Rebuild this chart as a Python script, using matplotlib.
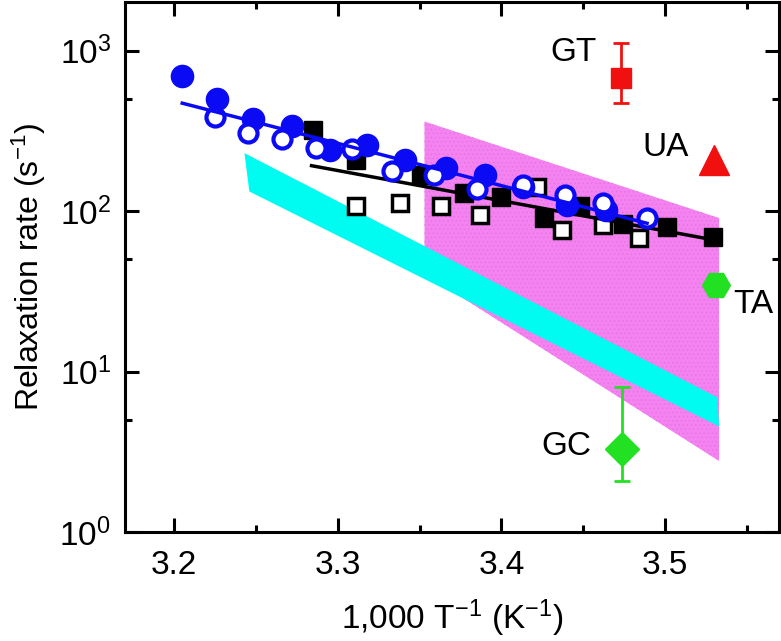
import numpy as np
import matplotlib
matplotlib.use('Agg')
import matplotlib.pyplot as plt
from matplotlib.patches import Polygon
from matplotlib.ticker import LogLocator, FixedLocator

plt.rcParams['font.family'] = ['Liberation Sans', 'DejaVu Sans']
plt.rcParams['mathtext.default'] = 'regular'
plt.rcParams['hatch.linewidth'] = 0.6

# 塗りつぶし青丸
blue_fill_x = [3.205, 3.226, 3.248, 3.272, 3.295, 3.318, 3.341, 3.366, 3.390, 3.413, 3.440, 3.464]
blue_fill_y = [696, 498, 374, 337, 241, 259, 209, 185, 168, 142, 110, 102]

# 白抜き青丸
blue_open_x = [3.225, 3.245, 3.266, 3.287, 3.309, 3.333, 3.359, 3.385, 3.413, 3.439, 3.462, 3.489]
blue_open_y = [385, 309, 281, 247, 243, 177, 168, 137, 146, 126, 112, 91]

# 青のフィット直線
blue_fit_x = [3.205, 3.489]
blue_fit_y = [471, 84]

# 塗りつぶし黒四角
black_fill_x = [3.285, 3.311, 3.351, 3.377, 3.400, 3.426, 3.448, 3.474, 3.501, 3.529]
black_fill_y = [321, 209, 168, 130, 123, 90, 107, 83.5, 79.6, 68.8]

# 白抜き黒四角
black_open_x = [3.311, 3.338, 3.363, 3.387, 3.422, 3.437, 3.462, 3.484]
black_open_y = [107, 112, 107, 95, 141, 76, 82.3, 68]

# 黒のフィット直線
black_fit_x = [3.284, 3.529]
black_fit_y = [192, 66.4]

# マゼンタ領域とシアン帯
magenta_x = [3.353, 3.533, 3.533, 3.353]
magenta_y = [362, 90.6, 2.77, 40.8]
cyan_x = [3.243, 3.532, 3.533, 3.246]
cyan_y = [230, 6.9, 4.55, 132.6]

# 個別の点
gt_x, gt_y, gt_lo, gt_hi = 3.473, 673, 475, 1112
ua_x, ua_y = 3.530, 209
ta_x, ta_y = 3.531, 34.8
gc_x, gc_y, gc_lo, gc_hi = 3.4735, 3.27, 2.08, 8.04

labels = ['GT', 'UA', 'TA', 'GC']
label_x = [3.4438, 3.5006, 3.5538, 3.4395]
label_y = [968, 248, 26.2, 3.40]

fig = plt.figure(figsize=(7.81, 6.41), dpi=100)
ax = fig.add_axes([0.160, 0.170, 0.8374, 0.8268])
ax.set_yscale('log')

ax.add_patch(Polygon(list(zip(magenta_x, magenta_y)), closed=True, facecolor='#f482f0',
                     edgecolor='#e874e4', hatch='....', linewidth=0, zorder=1))
ax.add_patch(Polygon(list(zip(cyan_x, cyan_y)), closed=True, facecolor='#00fbf0',
                     edgecolor='none', zorder=2))

ax.plot(black_open_x, black_open_y, 's', ms=12, mfc='white', mec='black', mew=2.5, zorder=3)
ax.plot(black_fill_x, black_fill_y, 's', ms=13, color='black', zorder=4)
ax.plot(black_fit_x, black_fit_y, '-', color='black', lw=2.5, zorder=5)
ax.plot(blue_fill_x, blue_fill_y, 'o', ms=16, color='#0a0af5', zorder=6)
ax.plot(blue_open_x, blue_open_y, 'o', ms=13, mfc='white', mec='#0a0af5', mew=3, zorder=7)
ax.plot(blue_fit_x, blue_fit_y, '-', color='#0a0af5', lw=2.5, zorder=8)

ax.errorbar([gt_x], [gt_y], yerr=[[gt_y - gt_lo], [gt_hi - gt_y]], fmt='s', ms=15,
            color='#f01010', ecolor='#f01010', elinewidth=2, capsize=6, capthick=2, zorder=9)
ax.plot([ua_x], [ua_y], '^', ms=22, color='#f01010', zorder=9)
ax.plot([ta_x], [ta_y], 'H', ms=20, color='#22e022', zorder=9)
ax.errorbar([gc_x], [gc_y], yerr=[[gc_y - gc_lo], [gc_hi - gc_y]], fmt='D', ms=17,
            color='#22e022', ecolor='#22e022', elinewidth=2, capsize=6, capthick=2, zorder=9)

for t, lx, ly in zip(labels, label_x, label_y):
    ax.text(lx, ly, t, fontsize=24, ha='center', va='center', zorder=10)

ax.set_xlim(3.170, 3.5696)
ax.set_ylim(1, 2010)

ax.xaxis.set_major_locator(FixedLocator([3.2, 3.3, 3.4, 3.5]))
ax.xaxis.set_minor_locator(FixedLocator([3.25, 3.35, 3.45, 3.55]))
ax.set_xticklabels(['3.2', '3.3', '3.4', '3.5'])
ax.yaxis.set_major_locator(LogLocator(base=10, numticks=10))
ax.yaxis.set_minor_locator(LogLocator(base=10, subs=[5.0], numticks=10))
ax.yaxis.set_minor_formatter(plt.NullFormatter())

ax.tick_params(which='both', direction='in', top=True, right=True, width=2.2, labelsize=24)
ax.tick_params(axis='x', which='major', length=10, pad=13)
ax.tick_params(axis='y', which='major', length=10, pad=10)
ax.tick_params(which='minor', length=5)
for s in ax.spines.values():
    s.set_linewidth(2.2)

ax.set_xlabel('1,000 T$^{-1}$ (K$^{-1}$)', fontsize=24, labelpad=12)
ax.set_ylabel('Relaxation rate (s$^{-1}$)', fontsize=23, labelpad=8)

fig.savefig('out.png', dpi=100)
